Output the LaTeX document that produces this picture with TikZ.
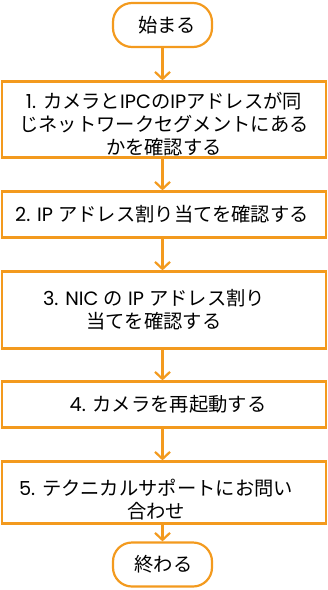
\documentclass[tikz,border=0pt]{standalone}
\usepackage{fontspec}
\setmainfont{Noto Sans CJK JP}
\newfontfamily\lat{Poppins}
\usetikzlibrary{arrows.meta}
\definecolor{flow}{HTML}{F39A1E}
\tikzset{
  box/.style={draw=flow, line width=2.2pt, minimum width=324pt, inner sep=0pt},
  term/.style={draw=flow, line width=2.2pt, rounded corners=19pt, minimum width=99pt, minimum height=44pt, inner sep=0pt},
  txt/.style={align=center, inner sep=0pt, font=\fontsize{19.3pt}{23pt}\selectfont},
  link/.style={draw=flow, line width=2.2pt, -{Straight Barb[length=7pt, width=15pt, line width=2.2pt]}, shorten >=0pt}
}
\begin{document}
\begin{tikzpicture}[x=1pt, y=-1pt]
\useasboundingbox (0,0) rectangle (328,590);
\node[term] (start) at (162.5,25) {};
\node[txt] (tstart) at (167,25) {始まる};
\node[box, minimum height=76pt] (b1) at (164,119.5) {};
\node[txt] (t1) at (164,124.5) {{\lat 1. }カメラと{\lat IPC}の{\lat IP}アドレスが同\\じネットワークセグメントにある\\かを確認する};
\node[box, minimum height=46pt] (b2) at (164,214.5) {};
\node[txt] (t2) at (162,214.5) {{\lat 2. IP }アドレス割り当てを確認する};
\node[box, minimum height=77pt] (b3) at (164,310) {};
\node[txt] (t3) at (154,310) {{\lat 3. NIC }の{\lat\ IP }アドレス割り\\当てを確認する};
\node[box, minimum height=46pt] (b4) at (164,404.5) {};
\node[txt] (t4) at (168,404.5) {{\lat 4. }カメラを再起動する};
\node[box, minimum height=62pt] (b5) at (164,492.5) {};
\node[txt] (t5) at (156,500) {{\lat 5. }テクニカルサポートにお問い\\合わせ};
\node[term] (end) at (162.5,564.5) {};
\node[txt] (tend) at (163.5,564.5) {終わる};
\draw[link] (start.south) -- (b1.north -| start.south);
\draw[link] (b1.south -| start.south) -- (b2.north -| start.south);
\draw[link] (b2.south -| start.south) -- (b3.north -| start.south);
\draw[link] (b3.south -| start.south) -- (b4.north -| start.south);
\draw[link] (b4.south -| start.south) -- (b5.north -| start.south);
\draw[link] (b5.south -| start.south) -- (end.north);
\end{tikzpicture}
\end{document}
